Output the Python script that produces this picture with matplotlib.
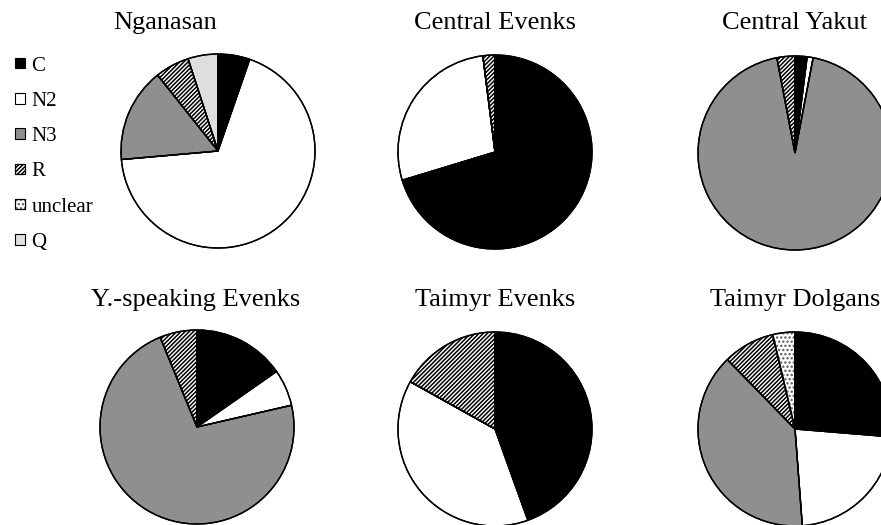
import matplotlib
matplotlib.use("Agg")
import matplotlib.pyplot as plt
from matplotlib.patches import Patch, Wedge

plt.rcParams['font.family'] = ['Liberation Serif', 'DejaVu Serif']
plt.rcParams['hatch.linewidth'] = 1.1

categories = ["C", "N2", "N3", "R", "unclear", "Q"]
populations = ["Nganasan", "Central Evenks", "Central Yakut",
               "Y.-speaking Evenks", "Taimyr Evenks", "Taimyr Dolgans"]

nganasan = [5.3, 68.3, 15.7, 5.7, 0.0, 5.0]
central_evenks = [70.3, 27.7, 0.0, 2.0, 0.0, 0.0]
central_yakut = [2.0, 1.0, 94.0, 3.0, 0.0, 0.0]
y_speaking_evenks = [15.3, 6.1, 72.4, 6.2, 0.0, 0.0]
taimyr_evenks = [44.5, 38.6, 0.0, 16.9, 0.0, 0.0]
taimyr_dolgans = [26.3, 22.5, 38.9, 8.6, 3.7, 0.0]

series = [nganasan, central_evenks, central_yakut,
          y_speaking_evenks, taimyr_evenks, taimyr_dolgans]

facecolors = ["#000000", "#ffffff", "#8f8f8f", "#ffffff", "#ffffff", "#dedede"]
hatches = [None, None, None, "////////", "....", None]
hatchcolors = [None, None, None, "black", "#555555", None]

W, H = 881, 525
fig = plt.figure(figsize=(W / 100, H / 100), dpi=100)

# pixel layout (centre x, centre y, title centre x, title centre y)
layout = [
    (218, 151, 165, 23),
    (495, 152, 495, 23),
    (795, 153, 794, 23),
    (197, 427, 196, 300),
    (495, 429, 495, 300),
    (795, 429, 795, 300),
]
r = 97
R = 110

for name, vals, (cx, cy, tx, ty) in zip(populations, series, layout):
    ax = fig.add_axes([(cx - R) / W, 1 - (cy + R) / H, 2 * R / W, 2 * R / H])
    wedges, _ = ax.pie(vals, startangle=90, counterclock=False,
                       wedgeprops=dict(edgecolor="black", linewidth=1.0))
    for w, fc, h, hc in zip(wedges, facecolors, hatches, hatchcolors):
        w.set_facecolor(fc)
        if h and w.theta2 - w.theta1 > 0:
            ax.add_patch(Wedge(w.center, w.r, w.theta1, w.theta2,
                               facecolor="none", edgecolor=hc, linewidth=0,
                               hatch=h, zorder=w.get_zorder() + 0.1))
    # redraw outlines on top of hatching
    for w in wedges:
        ax.add_patch(Wedge(w.center, w.r, w.theta1, w.theta2,
                           facecolor="none", edgecolor="black", linewidth=1.0,
                           zorder=w.get_zorder() + 0.2))
    ax.set_xlim(-R / r, R / r)
    ax.set_ylim(-R / r, R / r)
    ax.set_aspect("equal")
    ax.axis("off")
    fig.text(tx / W, 1 - ty / H, name, ha="center", va="center", fontsize=19)

handles = []
for fc, h, hc in zip(facecolors, hatches, hatchcolors):
    base = Patch(facecolor=fc, edgecolor="black", linewidth=0.8)
    if h:
        handles.append((base, Patch(facecolor="none", edgecolor=hc,
                                    linewidth=0, hatch=h),
                        Patch(facecolor="none", edgecolor="black", linewidth=0.8)))
    else:
        handles.append(base)

fig.legend(handles, categories, loc="upper left",
           bbox_to_anchor=(-2 / W, 1 - 40 / H), frameon=False,
           fontsize=15, handlelength=0.5, handleheight=0.4,
           handletextpad=0.3, labelspacing=0.78, borderpad=0.3)

fig.savefig("out.png", dpi=100)
